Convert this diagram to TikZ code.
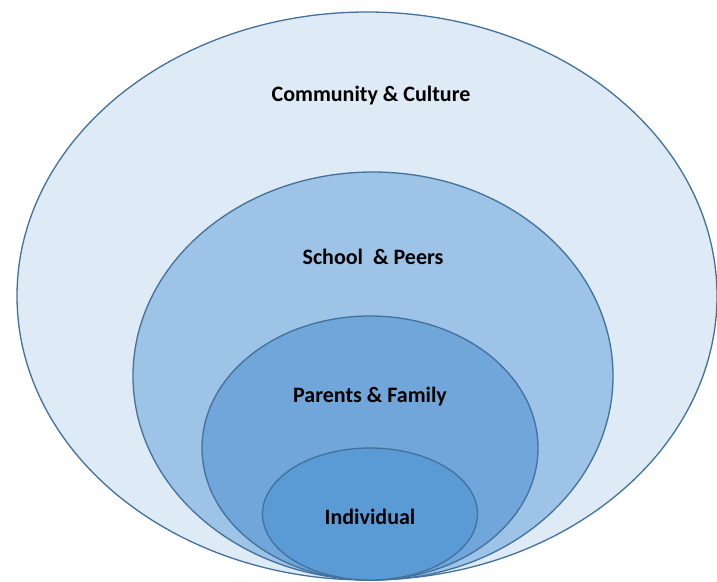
\documentclass[tikz,border=0pt]{standalone}
\usepackage{fontspec}
\setmainfont{Carlito}
\usepackage{xcolor}
\usetikzlibrary{shapes.geometric, positioning}
\definecolor{ringline}{HTML}{41719C}
\definecolor{ringA}{HTML}{DEEAF6}
\definecolor{ringB}{HTML}{9DC3E6}
\definecolor{ringC}{HTML}{70A6DA}
\definecolor{ringD}{HTML}{5B9BD5}
\tikzstyle{ring} = [ellipse, draw=ringline, line width=1.3pt, inner sep=0pt]
\tikzstyle{tag} = [font=\bfseries\fontsize{22}{26}\selectfont, text=black]

\begin{document}
\begin{tikzpicture}[x=1pt, y=-1pt]
		\useasboundingbox (0,0) rectangle (717,581);
		\clip (0,0) rectangle (717,581);
		\node (Community)[ring, fill=ringA, minimum width=700pt, minimum height=568pt] at (367,296) {};
		\node (School)[ring, fill=ringB, minimum width=480pt, minimum height=408pt] at (373,376) {};
		\node (Parents)[ring, fill=ringC, minimum width=336pt, minimum height=264pt] at (370,448) {};
		\node (Individual)[ring, fill=ringD, minimum width=215pt, minimum height=132pt] at (370,514) {};
		\node (Community label)[tag] at (371,96) {Community \& Culture};
		\node (School label)[tag] at (373,257) {School\ \ \& Peers};
		\node (Parents label)[tag] at (370,397) {Parents \& Family};
		\node (Individual label)[tag] at (370,517) {Individual};
	\end{tikzpicture}
\end{document}
